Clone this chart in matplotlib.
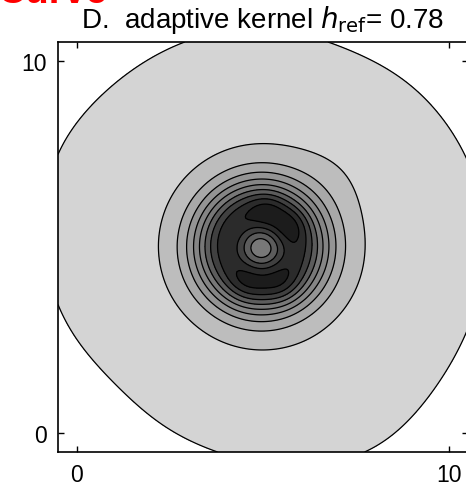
import numpy as np
import matplotlib.pyplot as plt

plt.rcParams['font.family'] = ['Liberation Sans', 'DejaVu Sans']

# kernel components: centre, width, weight
comp_x = [5.00, 4.95, 4.95, 5.10, 5.70, 4.60, 5.45, 6.80,
          0.80, 3.40, -0.60, 8.00, 7.20, -0.60, 10.7]
comp_y = [5.00, 5.00, 4.98, 5.95, 5.55, 4.10, 4.05, 6.80,
          0.90, -0.50, 3.30, -0.50, 10.6, 7.60, 6.00]
comp_s = [5.00, 0.94, 0.62, 0.32, 0.32, 0.38, 0.38, 0.80,
          1.60, 1.40, 1.40, 1.50, 1.30, 1.40, 2.00]
comp_w = [2.00, 21.7, -17.5, 0.90, 0.90, 1.00, 1.00, 0.20,
          -0.11, -0.05, -0.02, 0.06, -0.03, 0.035, 0.02]

levels = [1, 2, 3, 4, 5, 6, 7, 8, 9, 10]
band_grey = [1.0, 0.83, 0.74, 0.66, 0.58, 0.52, 0.47, 0.36, 0.25, 0.17, 0.11]

xs = np.linspace(-0.5, 10.5, 301)
X, Y = np.meshgrid(xs, xs)
Z = np.zeros_like(X)
for cx, cy, s, w in zip(comp_x, comp_y, comp_s, comp_w):
    Z += w * np.exp(-((X - cx)**2 + (Y - cy)**2) / (2 * s**2))

fig = plt.figure(figsize=(4.66, 4.89), dpi=100)
ax = fig.add_axes([58/466, 36/489, 410/466, 410/489])

fill_levels = [-100] + levels + [100]
colors = [str(g) for g in band_grey]
ax.contourf(X, Y, Z, levels=fill_levels, colors=colors)
ax.contour(X, Y, Z, levels=levels, colors='k', linewidths=0.9)

ax.set_xlim(-0.5, 10.5)
ax.set_ylim(-0.5, 10.5)
ax.set_xticks([0, 10])
ax.set_yticks([0, 10])
ax.tick_params(direction='in', length=4, width=1, top=True, right=True,
               labelsize=16.5, pad=8)
for sp in ax.spines.values():
    sp.set_linewidth(1.2)

ax.set_title(r'D.  adaptive kernel $h_{\mathrm{ref}}$= 0.78', fontsize=20, pad=10.5)

# clipped red heading from the slide above
fig.text(-0.005, 1 - 3/489, 'Curve', color='red', fontsize=28,
         fontweight='bold', va='baseline', ha='left')

fig.savefig('out.png', dpi=100)
